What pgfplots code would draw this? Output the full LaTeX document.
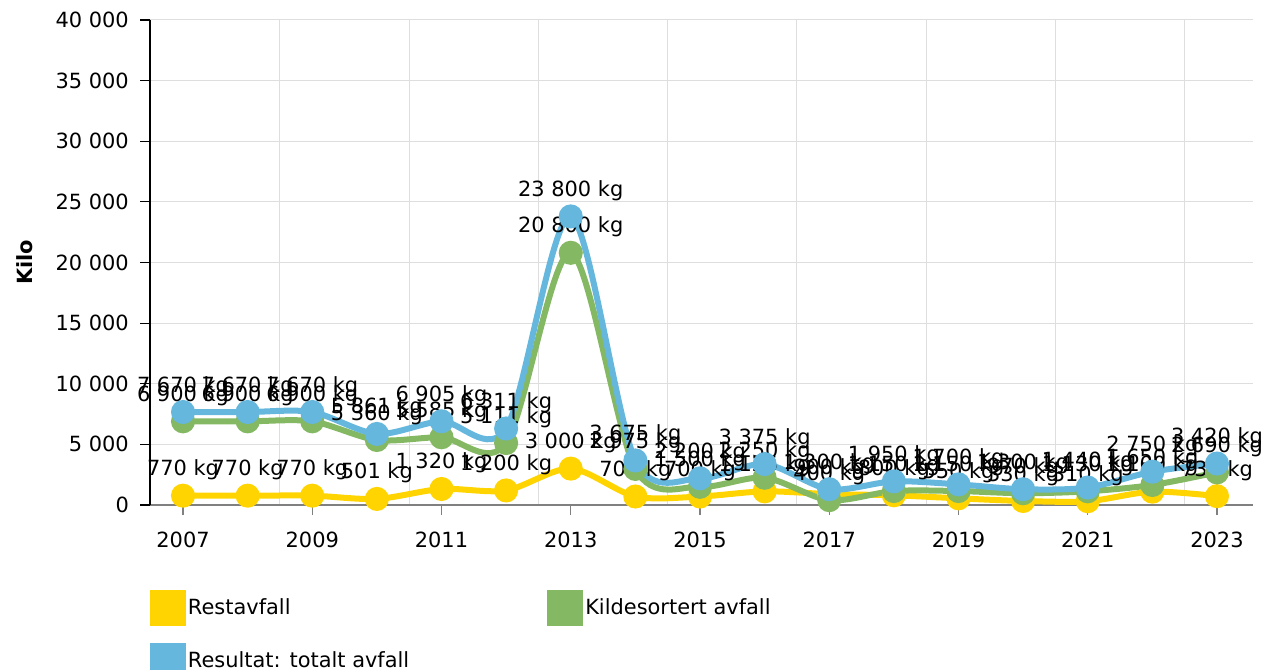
\documentclass[border=0pt]{standalone}
\usepackage{pgfplots}
\pgfplotsset{compat=1.18}
\usepackage{fontspec}
\setmainfont{DejaVu Sans}
\definecolor{cyel}{RGB}{255,212,0}
\definecolor{cgrn}{RGB}{132,184,98}
\definecolor{cblu}{RGB}{102,183,221}
\definecolor{cgrid}{RGB}{222,222,222}
\begin{document}
\fontsize{21}{25}\selectfont
\begin{tikzpicture}
\begin{axis}[
  scale only axis, width=1103bp, height=485bp,
  xmin=2006.489, xmax=2023.557, ymin=0, ymax=40000,
  clip=false,
  /pgf/number format/assume math mode=true,
  /pgf/number format/1000 sep={\ },
  xtick={2007,2009,...,2023},
  x tick label style={/pgf/number format/1000 sep={}, yshift=-10bp},
  y tick label style={xshift=-4bp},
  minor xtick={2008.5,2010.5,...,2022.5},
  minor tick length=0pt,
  xminorgrids, ymajorgrids,
  grid style={cgrid, line width=1bp},
  minor grid style={cgrid, line width=1bp},
  ytick={0,5000,...,40000},
  scaled y ticks=false,
  axis x line*=bottom, axis y line*=left,
  x axis line style={-, draw=gray, line width=1.2bp},
  y axis line style={-, draw=black, line width=1.2bp},
  tick align=outside, major tick length=10bp,
  xtick style={draw=gray, line width=1.2bp},
  ytick style={draw=black, line width=1.2bp},
  ylabel={\bfseries Kilo},
  every axis y label/.style={at={([xshift=-125bp]axis description cs:0,0.5)}, anchor=center, rotate=90},
  point meta=y,
  nodes near coords={\pgfmathprintnumber[fixed, precision=0, 1000 sep={\ }, assume math mode=true]{\pgfplotspointmeta}\ kg},
  nodes near coords style={anchor=base, yshift=20bp, inner sep=0pt, text=black},
  every axis plot/.append style={line width=6bp, smooth, mark=*, mark size=9bp},
  legend style={at={(axis description cs:0,0)}, anchor=north west, yshift=-85bp,
    draw=none, fill=none, inner sep=0pt, outer sep=0pt, legend columns=2,
    row sep=17bp, /tikz/every even column/.append style={column sep=136bp}},
  legend cell align=left,
  legend image code/.code={\fill (0bp,-15bp) rectangle (30bp,15bp);},
]
\addplot[color=cyel, mark options={fill=cyel, draw=cyel}] coordinates {
(2007,770) (2008,770) (2009,770) (2010,501) (2011,1320) (2012,1200) (2013,3000)
(2014,700) (2015,700) (2016,1125) (2017,900) (2018,800) (2019,550) (2020,330)
(2021,310) (2022,1100) (2023,730)};
\addlegendentry{Restavfall}
\addplot[color=cgrn, mark options={fill=cgrn, draw=cgrn}] coordinates {
(2007,6900) (2008,6900) (2009,6900) (2010,5360) (2011,5585) (2012,5111) (2013,20800)
(2014,2975) (2015,1500) (2016,2250) (2017,400) (2018,1150) (2019,1150) (2020,970)
(2021,1130) (2022,1650) (2023,2690)};
\addlegendentry{Kildesortert avfall}
\addplot[color=cblu, mark options={fill=cblu, draw=cblu}] coordinates {
(2007,7670) (2008,7670) (2009,7670) (2010,5861) (2011,6905) (2012,6311) (2013,23800)
(2014,3675) (2015,2200) (2016,3375) (2017,1300) (2018,1950) (2019,1700) (2020,1300)
(2021,1440) (2022,2750) (2023,3420)};
\addlegendentry{Resultat: totalt avfall}
\coordinate (sw) at (rel axis cs:0,0);
\end{axis}
\pgfresetboundingbox
\path (sw) ++(-150bp,-165bp) rectangle ([shift={(1117bp,505bp)}]sw);
\end{tikzpicture}
\end{document}
